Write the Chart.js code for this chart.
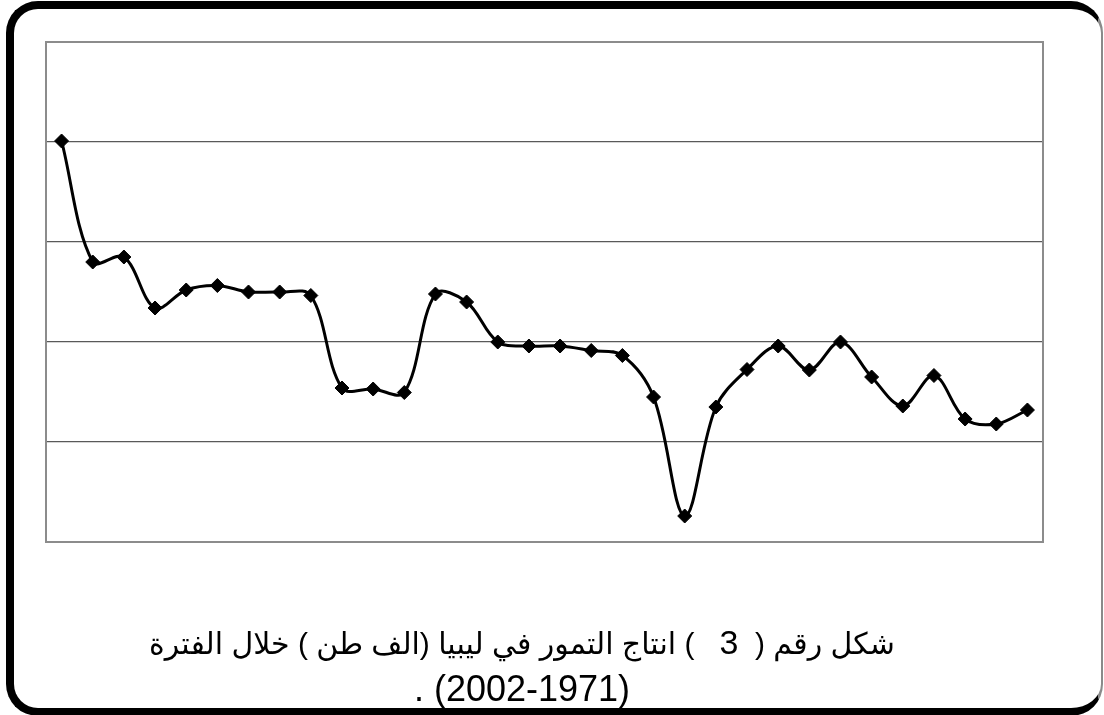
<!DOCTYPE html>
<html lang="ar">
<head>
<meta charset="utf-8">
<script src="https://cdn.jsdelivr.net/npm/chart.js@4"></script>
<style>
    html, body { margin: 0; padding: 0; background: #fff; overflow: hidden; }
    #frame {
        position: absolute; left: 6px; top: 1px; width: 1097px; height: 715px;
        box-sizing: border-box; border: 8px solid #000; border-right: 2px solid #8a8a8a;
        border-radius: 32px;
    }
    #wrap { position: absolute; left: 0; top: 0; width: 1104px; height: 715px; }
    #caption {
        position: absolute; left: 0; top: 620px; width: 1044px;
        text-align: center; direction: rtl; white-space: pre;
        font-family: "Liberation Sans", "DejaVu Sans", sans-serif;
        line-height: 45px; color: #000;
    }
    #caption .l1 { font-size: 30px; }
    #caption .l1 span { font-size: 34px; }
    #caption .l2 { font-size: 36px; }
</style>
</head>
<body>
<div id="frame"></div>
<div id="wrap"><canvas id="myChart"></canvas></div>
<div id="caption"><div class="l1">شكل رقم (  <span>3</span>   ) انتاج التمور في ليبيا (الف طن ) خلال الفترة</div><div class="l2">(2002-1971) .</div></div>
<script>
// years 1971 - 2002
const years = [1971, 1972, 1973, 1974, 1975, 1976, 1977, 1978, 1979, 1980,
    1981, 1982, 1983, 1984, 1985, 1986, 1987, 1988, 1989, 1990,
    1991, 1992, 1993, 1994, 1995, 1996, 1997, 1998, 1999, 2000,
    2001, 2002];
// production (axis 0 - 100)
const production = [80.2, 56, 57, 46.8, 50.4, 51.3, 50, 50, 49.3, 30.8,
    30.6, 29.9, 49.6, 48, 40, 39.2, 39.2, 38.3, 37.3, 29,
    5.2, 27, 34.5, 39.2, 34.4, 40, 33, 27.2, 33.3, 24.6,
    23.6, 26.4];
const yMin = 0;
const yMax = 100;
const yStep = 20;

// grey box round the plot area
const plotFrame = {
    id: 'plotFrame',
    beforeDatasetsDraw(chart) {
        const a = chart.chartArea;
        const c = chart.ctx;
        c.save();
        c.strokeStyle = '#8c8c8c';
        c.lineWidth = 2;
        c.strokeRect(a.left, a.top, a.right - a.left, a.bottom - a.top);
        c.restore();
    }
};

const ctx = document.getElementById('myChart').getContext('2d');
new Chart(ctx, {
    type: 'line',
    data: {
        labels: years,
        datasets: [{
            label: 'انتاج التمور',
            data: production,
            borderColor: '#000',
            borderWidth: 3,
            backgroundColor: '#000',
            pointStyle: 'rectRot',
            pointRadius: 7,
            pointBorderWidth: 1,
            pointBorderColor: '#000',
            pointBackgroundColor: '#000',
            tension: 0.35,
            fill: false,
            clip: false
        }]
    },
    options: {
        responsive: true,
        maintainAspectRatio: false,
        animation: false,
        layout: { padding: { left: 46, top: 42, right: 61, bottom: 173 } },
        plugins: {
            legend: { display: false },
            tooltip: { enabled: false }
        },
        scales: {
            x: {
                offset: true,
                grid: { display: false, drawTicks: false },
                border: { display: false },
                ticks: { display: false }
            },
            y: {
                min: yMin,
                max: yMax,
                grid: {
                    drawTicks: false,
                    color: c => (c.tick.value === yMin || c.tick.value === yMax) ? 'rgba(0,0,0,0)' : '#595959',
                    lineWidth: 1.3
                },
                border: { display: false },
                ticks: { display: false, stepSize: yStep }
            }
        }
    },
    plugins: [plotFrame]
});
</script>
</body>
</html>
